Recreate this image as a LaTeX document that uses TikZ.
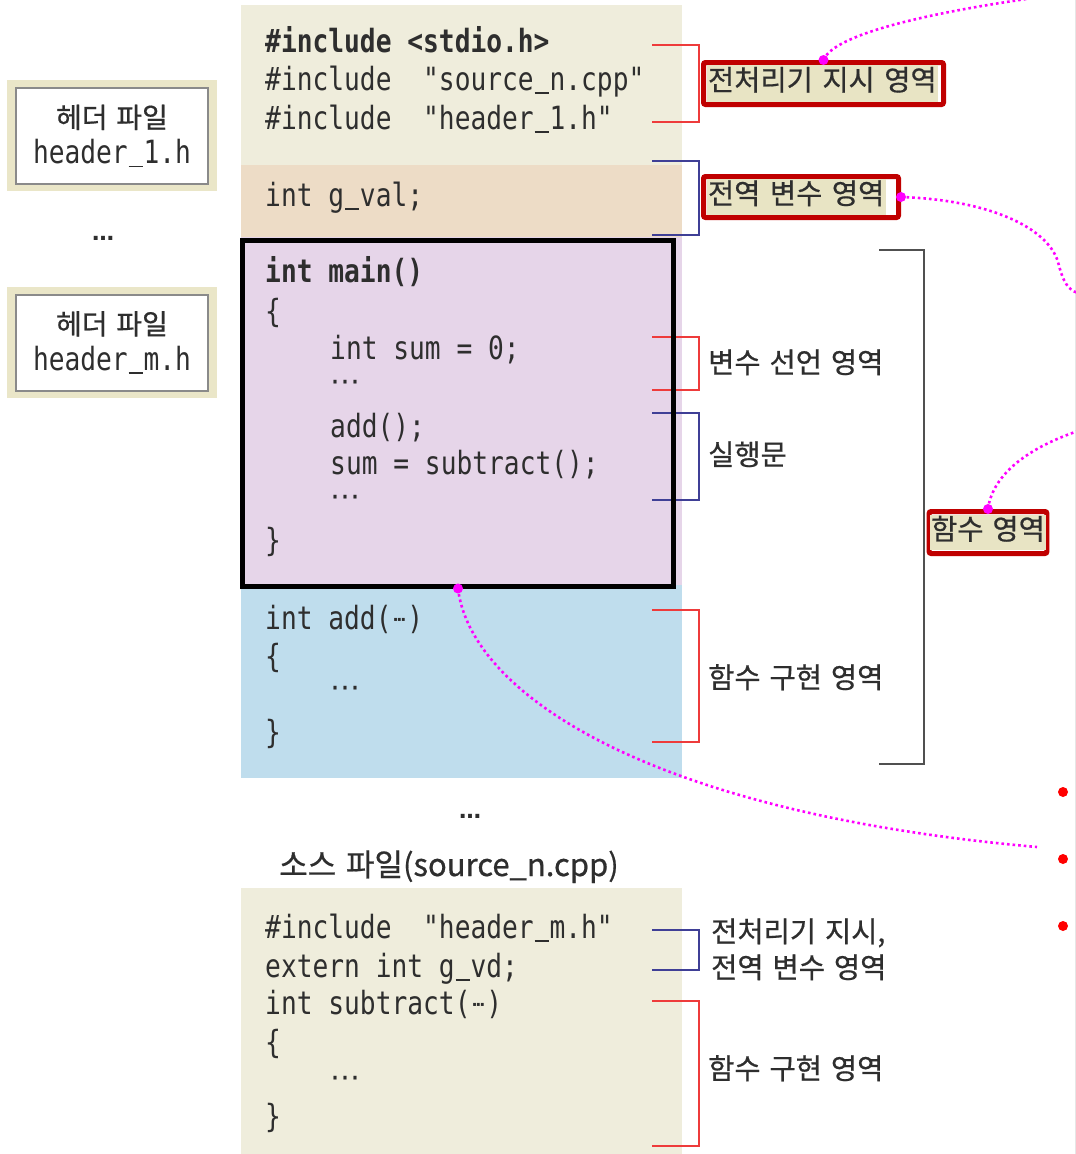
\documentclass[tikz,border=0pt]{standalone}
\usepackage{fontspec}
\usepackage{xcolor}
\newfontfamily\codefont[FakeStretch=0.82]{DejaVu Sans Mono}
\newfontfamily\kofont[WordSpace=1.4,FakeBold=0.6]{Noto Sans CJK KR}
\newfontfamily\symfont{DejaVu Sans}
\definecolor{topbg}{HTML}{EFEDDC}
\definecolor{gvbg}{HTML}{EDDCC6}
\definecolor{mainbg}{HTML}{E6D5E9}
\definecolor{addbg}{HTML}{BFDDED}
\definecolor{lblfill}{HTML}{E8E4C4}
\definecolor{lblframe}{HTML}{C00000}
\definecolor{bred}{HTML}{EE3B3B}
\definecolor{bblue}{HTML}{3F3F96}
\definecolor{bgray}{HTML}{505050}
\definecolor{txt}{HTML}{2E2E2E}
\definecolor{hdrbg}{HTML}{EAE6C8}
\definecolor{hdrline}{HTML}{8A8A8A}
\definecolor{edgegray}{HTML}{E6E6E6}
\definecolor{linkmag}{HTML}{FF00FF}
\definecolor{dotred}{HTML}{FF0000}
% ellipsis on its own code line
\newcommand\middots[1]{{\symfont\fontsize{#1}{#1}\selectfont ⋯}}
% ellipsis squeezed into one monospace cell, as in add(...)
\newcommand\celldots{\makebox[15.8pt][c]{\raisebox{4pt}{\symfont\bfseries\fontsize{16}{16}\selectfont ·\kern-2.2pt·\kern-2.2pt·}}}
% one monospace cell holding an underscore
\newcommand\us{\makebox[15.8pt][c]{\rule[-3.5pt]{14pt}{1.8pt}}}
\begin{document}
\begin{tikzpicture}[x=1pt,y=-1pt,
  code/.style={anchor=base west, inner sep=0, text=txt, font=\codefont\fontsize{32}{38}\selectfont},
  codeb/.style={code, font=\codefont\bfseries\fontsize{32}{38}\selectfont},
  kolbl/.style={anchor=base west, inner sep=0, text=txt, font=\kofont\fontsize{28.5}{32}\selectfont},
  boxlbl/.style={draw=lblframe, line width=5pt, fill=white, rounded corners=2pt,
    inner xsep=3pt, inner ysep=1.5pt, align=left, text=txt,
    font=\kofont\fontsize{28.5}{32}\selectfont},
  rbrack/.style={draw=bred, line width=1.6pt},
  bbrack/.style={draw=bblue, line width=1.6pt},
  link/.style={draw=linkmag, line width=2.6pt, dash pattern=on 2.6pt off 3pt},
  linkdot/.style={circle, fill=linkmag, inner sep=0, minimum size=10pt},
  reddot/.style={circle, fill=dotred, inner sep=0, minimum size=10pt},
  bigdots/.style={anchor=base, inner sep=0, text=txt, font=\symfont\bfseries\fontsize{22}{22}\selectfont},
]
\useasboundingbox (0,0) rectangle (1076,1154);
\fill[white] (0,0) rectangle (1076,1154);
\draw[edgegray, line width=1pt] (1075.5,0) -- (1075.5,1154);

% coloured code regions of the source file
\fill[topbg]  (241,5)   rectangle (682,165);
\fill[gvbg]   (241,165) rectangle (682,237);
\fill[mainbg] (241,237) rectangle (682,585);
\fill[addbg]  (241,585) rectangle (682,778);
\fill[topbg]  (241,888) rectangle (682,1154);

% header files on the left
\node[fill=hdrbg, minimum width=210pt, minimum height=111pt, inner sep=0] (h1o) at (112,135.5) {};
\node[draw=hdrline, line width=2pt, fill=white, minimum width=192pt, minimum height=96pt,
      inner sep=0, align=center, text=txt, font=\fontsize{28}{36}\selectfont] (h1) at (112,136)
      {{\kofont 헤더 파일}\\{\codefont\fontsize{32}{36}\selectfont header\us1.h}};
\node[bigdots] (hd) at (103,240) {…};
\node[fill=hdrbg, minimum width=210pt, minimum height=111pt, inner sep=0] (h2o) at (112,342) {};
\node[draw=hdrline, line width=2pt, fill=white, minimum width=192pt, minimum height=96pt,
      inner sep=0, align=center, text=txt, font=\fontsize{28}{36}\selectfont] (h2) at (112,342.5)
      {{\kofont 헤더 파일}\\{\codefont\fontsize{32}{36}\selectfont header\us m.h}};

% code of source_n.cpp
\node[codeb] (c1) at (265,52) {\#include <stdio.h>};
\node[code] (c2) at (265,90) {\#include~~"source\us n.cpp"};
\node[code] (c3) at (265,129) {\#include~~"header\us1.h"};
\node[code] (c4) at (265,206) {int g\us val;};
\node[codeb] (c5) at (265,282) {int main()};
\node[code] (c6) at (265,322) {\{};
\node[code] (c7) at (330,359) {int sum = 0;};
\node[code] (c8) at (330,391) {\middots{30}};
\node[code] (c9) at (330,437) {add();};
\node[code] (c10) at (330,474) {sum = subtract();};
\node[code] (c11) at (330,506) {\middots{30}};
\node[code] (c12) at (265,551) {\}};
\node[code] (c13) at (265,629) {int add(\celldots)};
\node[code] (c14) at (265,667) {\{};
\node[code] (c15) at (330,697) {\middots{30}};
\node[code] (c16) at (265,743) {\}};

\node[bigdots] (md) at (470,818) {…};
\node[anchor=base, inner sep=0, text=txt, font=\kofont\fontsize{31}{34}\selectfont] (srcname) at (449,876) {소스 파일(source\_n.cpp)};

% code of the second source file
\node[code] (c17) at (265,938) {\#include~~"header\us m.h"};
\node[code] (c18) at (265,977) {extern int g\us vd;};
\node[code] (c19) at (265,1014) {int subtract(\celldots)};
\node[code] (c20) at (265,1053) {\{};
\node[code] (c21) at (330,1087) {\middots{30}};
\node[code] (c22) at (265,1127) {\}};

% region brackets
\draw[rbrack] (652,45) -- (699,45) -- (699,122) -- (652,122);
\draw[bbrack] (652,161) -- (699,161) -- (699,235) -- (652,235);
\draw[rbrack] (652,337) -- (699,337) -- (699,390) -- (652,390);
\draw[bbrack] (652,413) -- (699,413) -- (699,500) -- (652,500);
\draw[rbrack] (652,610) -- (699,610) -- (699,742) -- (652,742);
\draw[bbrack] (652,930) -- (699,930) -- (699,970) -- (652,970);
\draw[rbrack] (652,1001) -- (699,1001) -- (699,1146) -- (652,1146);
\draw[draw=bgray, line width=1.6pt] (879,250) -- (924,250) -- (924,764) -- (879,764);

% main function frame
\node[draw=black, line width=5pt, minimum width=431pt, minimum height=345.5pt, inner sep=0] (mainbox) at (458,413.25) {};

% region labels
\node[kolbl] (vdecl) at (708,373) {변수 선언 영역};
\node[kolbl] (stmt) at (708,465) {실행문};
\node[kolbl] (impl1) at (708,688) {함수 구현 영역};
\node[kolbl] (pre2a) at (711,942) {전처리기 지시,};
\node[kolbl] (pre2b) at (711,978) {전역 변수 영역};
\node[kolbl] (impl2) at (708,1079) {함수 구현 영역};

\node[boxlbl, text width=234pt, minimum height=42pt] (pre) at (823.5,83.5)
  {\setlength\fboxsep{1.5pt}\colorbox{lblfill}{\strut 전처리기 지시 영역}};
\node[boxlbl, text width=189pt, minimum height=41pt] (gv) at (801,197)
  {\setlength\fboxsep{1.5pt}\colorbox{lblfill}{\strut 전역 변수 영역}};
\node[boxlbl, inner xsep=1pt, minimum height=42pt] (fn) at (988,532.5)
  {\setlength\fboxsep{1pt}\colorbox{lblfill}{\strut 함수 영역}};

% dotted links leaving to the right
\coordinate (e1) at (1040,-3);
\coordinate (e2mid) at (1058,262);
\coordinate (e2) at (1078,293);
\coordinate (e3) at (1078,431);
\coordinate (e4) at (1037,847);
\draw[link] (pre.north) .. controls (832,38) and (905,16) .. (e1);
\draw[link] (gv.east) .. controls (990,200) and (1048,228) .. (e2mid) .. controls (1063,282) and (1068,290) .. (e2);
\draw[link] (fn.north) .. controls (992,478) and (1022,450) .. (e3);
\draw[link] (mainbox.south) .. controls (470,690) and (640,812) .. (e4);
\node[linkdot] (d1) at (pre.north) {};
\node[linkdot] (d2) at (gv.east) {};
\node[linkdot] (d3) at (fn.north) {};
\node[linkdot] (d4) at (mainbox.south) {};

\node[reddot] (r1) at (1063,792) {};
\node[reddot] (r2) at (1063,859) {};
\node[reddot] (r3) at (1063,926) {};
\end{tikzpicture}
\end{document}
